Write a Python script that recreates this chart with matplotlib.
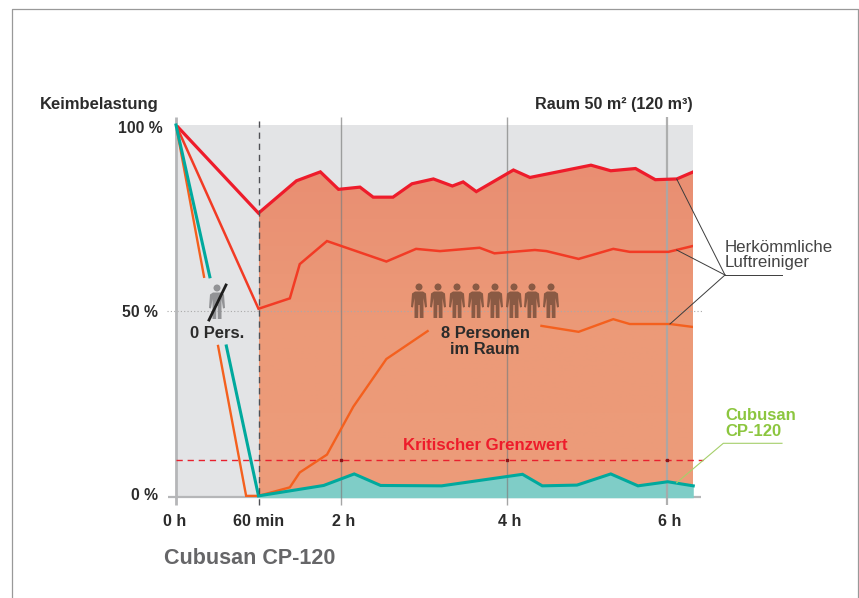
import matplotlib
matplotlib.use("Agg")
import matplotlib.pyplot as plt
import numpy as np
from matplotlib.colors import LinearSegmentedColormap
from matplotlib.patches import Circle, Polygon
from matplotlib.transforms import ScaledTranslation

plt.rcParams["font.family"] = ["Liberation Sans", "DejaVu Sans"]

nan = float("nan")

# hours since start, germ load in percent (nan = gap behind the labels)
top_hours = [0, 1.0, 1.46, 1.75, 1.97, 2.23, 2.39, 2.63, 2.86, 3.12, 3.35, 3.48, 3.64, 4.09, 4.29, 5.03, 5.27, 5.57, 5.81, 6.07, 6.27]
top_load = [100, 76.3, 85.0, 87.4, 82.7, 83.3, 80.6, 80.6, 84.2, 85.5, 83.6, 84.7, 82.1, 87.9, 85.9, 89.2, 87.7, 88.3, 85.3, 85.5, 87.4]

mid_hours = [0, 1.0, 1.38, 1.50, 1.83, 2.55, 2.91, 3.20, 3.68, 3.86, 4.35, 4.49, 4.88, 5.30, 5.50, 5.97, 6.27]
mid_load = [100, 50.6, 53.4, 62.6, 68.8, 63.3, 66.7, 66.1, 67.0, 65.5, 66.4, 66.1, 64.0, 66.7, 65.9, 65.9, 67.5]

low_hours = [0, 0.34, nan, 0.51, 0.85, 1.0, 1.38, 1.50, 1.83, 2.15, 2.55, 3.05, nan, 4.43, 4.88, 5.30, 5.50, 5.99, 6.27]
low_load = [100, 59.2, nan, 40.6, 0.3, 0.3, 2.6, 6.6, 11.4, 24.3, 37.1, 44.6, nan, 46.0, 44.4, 47.8, 46.5, 46.5, 45.7]

cubusan_hours = [0, 0.41, nan, 0.61, 1.0, 1.79, 2.16, 2.48, 3.22, 4.20, 4.44, 4.86, 5.27, 5.60, 5.96, 6.27]
cubusan_load = [100, 59.2, nan, 40.6, 0.3, 3.1, 6.2, 3.1, 3.0, 6.1, 3.0, 3.2, 6.2, 3.0, 4.1, 3.0]

tick_hours = [0, 1, 2, 4.01, 5.95]
tick_labels = ["0 h", "60 min", "2 h", "4 h", "6 h"]
y_ticks = [0, 50, 100]
y_labels = ["0 %", "50 %", "100 %"]
threshold = 9.85

fig = plt.figure(figsize=(8.59, 5.98), dpi=100)
ax = fig.add_axes([176 / 859, 101 / 598, 517 / 859, 372 / 598])
ax.set_facecolor("#E3E4E6")

# filled area after the 60 min mark, slightly lighter towards the bottom
top_x = np.array(top_hours[1:])
top_y = np.array(top_load[1:])
fill = ax.fill_between(top_x, 0, top_y, color="none", lw=0)
fade = LinearSegmentedColormap.from_list("fade", ["#EC9C7A", "#EC9A78", "#E98E72"])
shade = ax.imshow(np.linspace(0, 1, 200)[:, None], extent=(1, 6.27, 0, 90), origin="lower",
                  aspect="auto", cmap=fade, zorder=1)
shade.set_clip_path(fill.get_paths()[0], ax.transData)
cub_x = np.array(cubusan_hours[4:])
cub_y = np.array(cubusan_load[4:])
ax.fill_between(cub_x, -0.2, cub_y, color="#7FCDC7", lw=0, zorder=1.3, clip_on=False)

ax.set_xlim(0, 517 / 82.5)
ax.set_ylim(0, 100)
for spine in ax.spines.values():
    spine.set_visible(False)

# guide lines
ax.plot([-0.11, 6.39], [50, 50], color="#A9A9A9", lw=0.8, ls=(0, (1, 2)), clip_on=False, zorder=1.5)
ax.vlines(tick_hours[0], -2.15, 102.2, color="#B5B6B8", lw=2, clip_on=False, zorder=2)
ax.vlines(tick_hours[1], -2.15, 102.2, color="#4F5055", lw=1.0, ls=(0, (4.5, 3.5)), clip_on=False, zorder=5)
ax.vlines(tick_hours[2:4], -2.15, 102.2, color="#7F7F7F", lw=1.0, alpha=0.7, clip_on=False, zorder=2)
ax.vlines(tick_hours[4], -2.15, 102.2, color="#A8A8A8", lw=1.6, alpha=0.9, clip_on=False, zorder=2)
ax.hlines(0, -0.097, 6.36, color="#B5B6B8", lw=1.6, clip_on=False, zorder=1.2)
ax.plot([0, 6.39], [threshold, threshold], color="#E8202E", lw=1.0, ls=(0, (4.5, 3.5)), clip_on=False, zorder=3)
ax.plot(tick_hours[2:], [threshold] * 3, ls="", marker="s", ms=2, color="#8E1518", zorder=3.5)

# series
ax.plot(top_hours, top_load, color="#EE1C2B", lw=2.3, zorder=4, solid_joinstyle="miter")
ax.plot(mid_hours, mid_load, color="#F23B25", lw=1.8, zorder=4, solid_joinstyle="miter")
ax.plot(low_hours, low_load, color="#F4601E", lw=1.7, zorder=4, solid_joinstyle="miter")
ax.plot(cubusan_hours, cubusan_load, color="#00A99D", lw=2.2, zorder=4.2, solid_joinstyle="miter", clip_on=False)

# axis labels
ax.set_xticks(tick_hours, tick_labels, fontsize=11.6, fontweight="bold", color="#2B2B2B")
ax.set_yticks(y_ticks, y_labels, fontsize=11.3, fontweight="bold", color="#2B2B2B")
ax.tick_params(axis="both", length=0)
ax.tick_params(axis="x", pad=12.5)
ax.tick_params(axis="y", pad=12)
for lab, dx in zip(ax.get_xticklabels(), [-1, 0, 3, 3, 3]):
    lab.set_transform(lab.get_transform() + ScaledTranslation(dx / 100, 0, fig.dpi_scale_trans))
for lab, (dx, dy) in zip(ax.get_yticklabels(), [(0, 3), (0, 0), (4, -2)]):
    lab.set_transform(lab.get_transform() + ScaledTranslation((dx - 1) / 100, dy / 100, fig.dpi_scale_trans))

# overlay in pixel coordinates for notes, icons and the frame
over = fig.add_axes([0, 0, 1, 1], facecolor="none")
over.set_xlim(0, 859)
over.set_ylim(598, 0)
over.axis("off")

over.plot([11.5, 11.5, 858, 858], [598, 8.5, 8.5, 598], color="#999999", lw=0.9)

person = np.array([(-4, 4.5), (4, 4.5), (7, 6.5), (8, 20), (6, 20.5), (4.5, 11), (4.5, 31), (0.8, 31),
                   (0.6, 18), (-0.6, 18), (-0.8, 31), (-4.5, 31), (-4.5, 11), (-6, 20.5), (-8, 20), (-7, 6.5)])


def draw_person(x, y, color):
    over.add_patch(Circle((x, y), 3.5, color=color, lw=0))
    over.add_patch(Polygon(person + (x, y), closed=True, color=color, lw=0))


for px in [419, 438, 457, 476, 495, 514, 532, 551]:
    draw_person(px, 287, "#8A5A44")
draw_person(217, 288, "#929396")
over.plot([209, 226], [320, 285], color="#1E1E1E", lw=2)

# leader lines
over.plot([725, 782], [275, 275], color="#3C3C3C", lw=0.7)
for x0, y0 in [(676.7, 179), (676.7, 250), (670, 324)]:
    over.plot([x0, 725], [y0, 275], color="#3C3C3C", lw=0.7)
over.plot([676.7, 723.3, 782], [482.7, 443.3, 443.3], color="#A5CF6A", lw=0.8)

dark = "#2B2B2B"
over.text(40, 104, "Keimbelastung", fontsize=12, fontweight="bold", color=dark, ha="left", va="center")
over.text(693, 105, "Raum 50 m² (120 m³)", fontsize=11.6, fontweight="bold", color=dark, ha="right", va="center")
over.text(217, 333, "0 Pers.", fontsize=11.9, fontweight="bold", color=dark, ha="center", va="center")
over.text(485, 333, "8 Personen", fontsize=11.9, fontweight="bold", color=dark, ha="center", va="center")
over.text(485, 349, "im Raum", fontsize=11.9, fontweight="bold", color=dark, ha="center", va="center")
over.text(485, 446, "Kritischer Grenzwert", fontsize=12.1, fontweight="bold", color="#EE1C2B", ha="center", va="center")
over.text(725, 247, "Herkömmliche", fontsize=12.2, color="#444444", ha="left", va="center")
over.text(725, 263, "Luftreiniger", fontsize=12.2, color="#444444", ha="left", va="center")
over.text(725, 415, "Cubusan", fontsize=12, fontweight="bold", color="#8CC63F", ha="left", va="center")
over.text(725, 431, "CP-120", fontsize=12, fontweight="bold", color="#8CC63F", ha="left", va="center")
over.text(164, 558, "Cubusan CP-120", fontsize=15.5, fontweight="bold", color="#666668", ha="left", va="center")

fig.savefig("out.png", dpi=100)
plt.close(fig)
